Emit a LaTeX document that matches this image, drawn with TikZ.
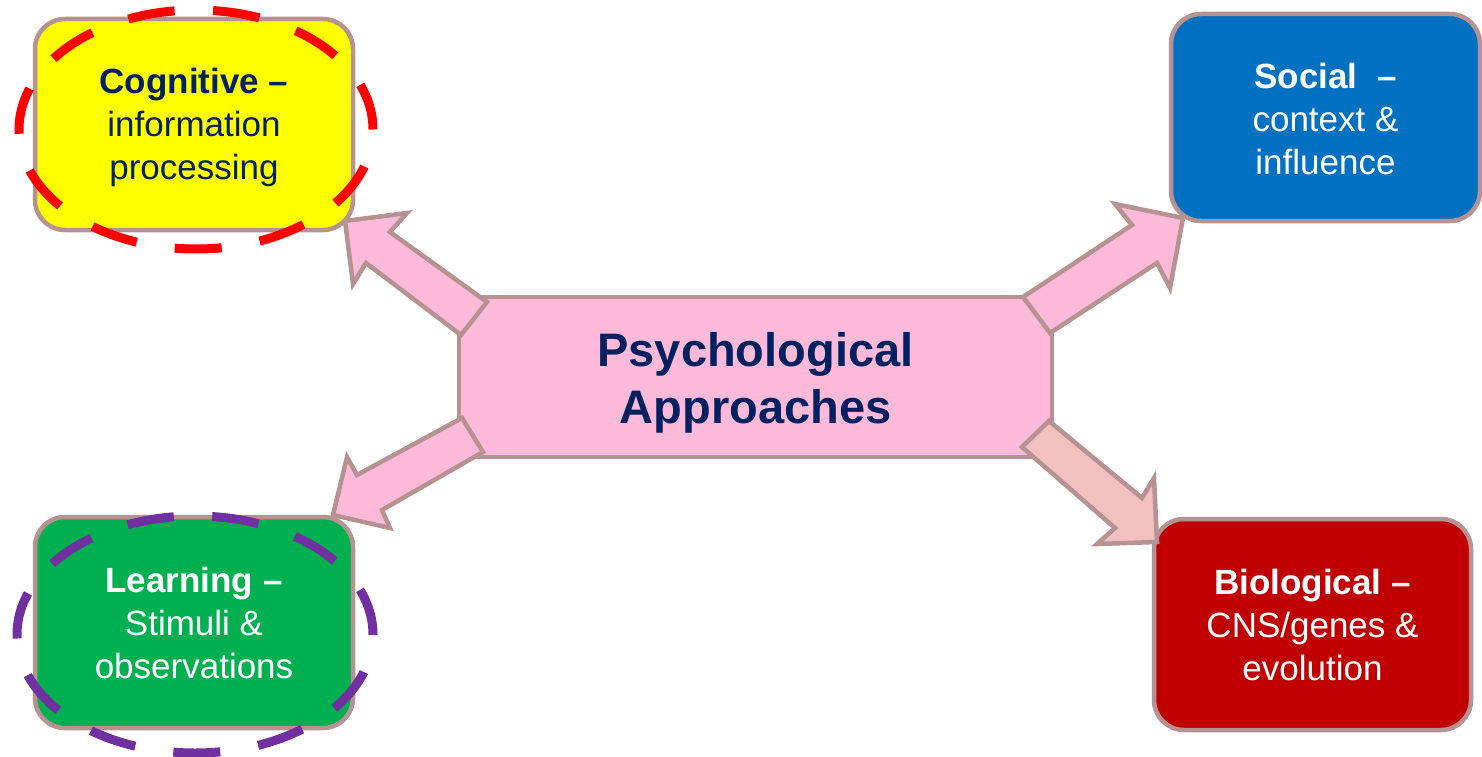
\documentclass[tikz,border=0pt]{standalone}
\usepackage{fontspec}
\setmainfont{Liberation Sans}
\definecolor{edgec}{RGB}{183,146,146}
\definecolor{pinkf}{RGB}{255,185,217}
\definecolor{pinkl}{RGB}{242,192,192}
\definecolor{navy}{RGB}{0,32,96}
\definecolor{cogy}{RGB}{255,255,0}
\definecolor{socb}{RGB}{0,112,192}
\definecolor{lrng}{RGB}{0,176,80}
\definecolor{bior}{RGB}{192,0,0}
\definecolor{ellred}{RGB}{255,0,0}
\definecolor{ellpur}{RGB}{112,48,160}
\begin{document}
\begin{tikzpicture}[x=1pt,y=1pt,
  approach/.style={draw=edgec, line width=4.5pt, rounded corners=30pt, inner sep=0pt,
    align=center, minimum width=318pt, minimum height=211pt,
    font=\fontsize{35}{43}\selectfont},
  hub/.style={draw=edgec, fill=pinkf, line width=4.5pt, inner sep=0pt, align=center,
    minimum width=593pt, minimum height=160pt, text=navy,
    font=\fontsize{47}{57}\selectfont\bfseries},
  blockarrow/.style={draw=edgec, line width=4.5pt, line join=miter},
  ring/.style={line width=9pt, dash pattern=on 47pt off 38.5pt}]
\useasboundingbox (0,0) rectangle (1482,-757);

% boxes
\node[approach, fill=cogy, text=navy] (cog) at (194,-124.5)
  {\rule{0pt}{31pt}\textbf{Cognitive –}\\information\\processing};
\node[approach, fill=socb, text=white, minimum width=309pt, minimum height=207pt] (soc) at (1325.5,-117.5)
  {\rule{0pt}{29pt}\textbf{Social\ \ –}\\context \&\\influence};
\node[approach, fill=lrng, text=white] (lrn) at (194,-622.5)
  {\textbf{Learning –}\\Stimuli \&\\observations};
\node[approach, fill=bior, text=white, minimum width=317pt] (bio) at (1312.5,-624.5)
  {\textbf{Biological –}\\CNS/genes \&\\evolution};

% centre
\node[hub] (hubn) at (755.5,-377) {\rule{0pt}{46pt}Psychological\\Approaches};

% block arrows
\draw[blockarrow, fill=pinkf] (487,-302) -- (390,-232) -- (407,-213) -- (345,-221)
  -- (353,-284) -- (366,-263) -- (461,-335) -- cycle;
\draw[blockarrow, fill=pinkf] (1023,-297) -- (1132,-225) -- (1115,-204) -- (1183,-218)
  -- (1170,-288) -- (1157,-263) -- (1050,-333) -- cycle;
\draw[blockarrow, fill=pinkl] (1049,-421) -- (1142,-498) -- (1154,-478) -- (1157,-542)
  -- (1097,-544) -- (1115,-528) -- (1022,-447) -- cycle;
\draw[blockarrow, fill=pinkf] (462,-418) -- (357,-475) -- (347,-457) -- (333,-515)
  -- (390,-528) -- (382,-510) -- (483,-452) -- cycle;

% dashed rings
\draw[ring, draw=ellred] (196,-129.5) ellipse [x radius=177, y radius=119.5];
\draw[ring, draw=ellpur] (195,-634.5) ellipse [x radius=178, y radius=118.5];
\end{tikzpicture}
\end{document}
